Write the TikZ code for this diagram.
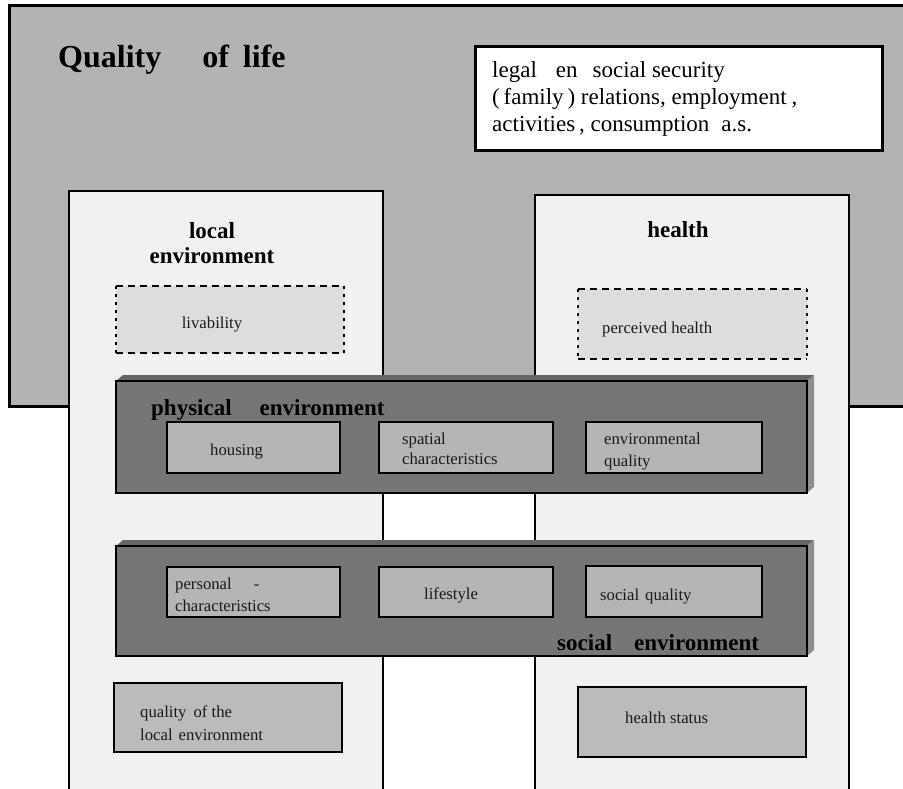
\documentclass[tikz,border=0pt]{standalone}
\usepackage{fontspec}
\setmainfont{Liberation Serif}
\definecolor{qolgray}{HTML}{B3B3B3}
\definecolor{colfill}{HTML}{F1F1F1}
\definecolor{dashfill}{HTML}{DDDDDD}
\definecolor{bandfront}{HTML}{767676}
\definecolor{bandtop}{HTML}{666666}
\definecolor{bandside}{HTML}{8E8E8E}
\definecolor{innerfill}{HTML}{B5B5B5}
\definecolor{botfill}{HTML}{BBBBBB}
\definecolor{txt}{HTML}{1A1A1A}
\begin{document}
\begin{tikzpicture}[x=1pt,y=-1pt,
  frame/.style={anchor=north west,inner sep=0pt,outer sep=0pt},
  colbox/.style={frame,draw=black,line width=2.3pt,fill=colfill},
  dashbox/.style={frame,fill=dashfill},
  bandbox/.style={frame,draw=black,line width=2.5pt,fill=bandfront},
  innerbox/.style={frame,draw=black,line width=2.5pt,fill=innerfill},
  botbox/.style={frame,draw=black,line width=2.2pt,fill=botfill},
  hdash/.style={line width=2.4pt,dash pattern=on 7pt off 5pt},
  vdot/.style={line width=2.6pt,dash pattern=on 3pt off 5pt},
  lbl/.style={anchor=base west,inner sep=0pt,text=txt,font=\fontsize{16.7}{20}\selectfont},
  head/.style={anchor=base,inner sep=0pt,font=\bfseries\fontsize{23}{25}\selectfont},
  bighead/.style={anchor=base west,inner sep=0pt,font=\bfseries\fontsize{23}{25}\selectfont},
  note/.style={anchor=base west,inner sep=0pt,font=\fontsize{23}{27}\selectfont}
]
\clip (0,0) rectangle (903,789);
\fill[white] (0,0) rectangle (903,789);

% outer quality of life box
\node[frame,draw=black,line width=3pt,fill=qolgray,minimum width=910pt,minimum height=400pt] (qol) at (9,6) {};
\node[anchor=base west,inner sep=0pt,font=\bfseries\fontsize{32}{36}\selectfont] (qoltxt) at (58,68) {Quality\hspace{41pt}of\hspace{14pt}life};

% white box
\node[frame,draw=black,line width=3pt,fill=white,minimum width=407pt,minimum height=104pt] (legal) at (475,47) {};
\node[note] (l1) at (492,78) {legal\hspace{19pt}en\hspace{15pt}social security};
\node[note] (l2) at (492,105) {(\,family\,) relations, employment\hspace{5pt},};
\node[note] (l3) at (492,132) {activities\,, consumption\hspace{12pt}a.s.};

% columns
\node[colbox,minimum width=314pt,minimum height=620pt] (loc) at (69,191) {};
\node[colbox,minimum width=314pt,minimum height=620pt] (hea) at (535,195) {};
\node[head] (loct1) at (212,238) {local};
\node[head] (loct2) at (212,263) {environment};
\node[head] (heat) at (678,237) {health};

% dashed boxes
\node[dashbox,minimum width=228pt,minimum height=67pt] (liv) at (116,286) {};
\draw[hdash] (liv.north west) -- (liv.north east);
\draw[hdash] (liv.south west) -- (liv.south east);
\draw[vdot] (liv.north west) -- (liv.south west);
\draw[vdot] (liv.north east) -- (liv.south east);
\node[lbl,anchor=base] (livt) at (212,328) {livability};

\node[dashbox,minimum width=229pt,minimum height=70pt] (per) at (578,289) {};
\draw[hdash] (per.north west) -- (per.north east);
\draw[hdash] (per.south west) -- (per.south east);
\draw[vdot] (per.north west) -- (per.south west);
\draw[vdot] (per.north east) -- (per.south east);
\node[lbl] (pert) at (602,333) {perceived health};

% physical environment band
\node[bandbox,minimum width=691pt,minimum height=112pt] (phys) at (116,381) {};
\fill[bandtop] (phys.north west) -- ++(7,-6) -- ([shift={(7,-6)}]phys.north east) -- (phys.north east) -- cycle;
\fill[bandside] (phys.north east) -- ++(7,-6) -- ([shift={(7,-6)}]phys.south east) -- (phys.south east) -- cycle;
\draw[line width=2.5pt] (phys.north west) rectangle (phys.south east);
\node[bighead] (physt) at (151,415) {physical\hspace{28pt}environment};

\node[innerbox,minimum width=173pt,minimum height=51pt] (hou) at (167,422) {};
\node[innerbox,minimum width=174pt,minimum height=51pt] (spa) at (379,422) {};
\node[innerbox,minimum width=176pt,minimum height=51pt] (env) at (586,422) {};
\node[lbl] (hout) at (210,455) {housing};
\node[lbl] (spat1) at (402,444) {spatial};
\node[lbl] (spat2) at (402,464) {characteristics};
\node[lbl] (envt1) at (604,444) {environmental};
\node[lbl] (envt2) at (604,466) {quality};

% social environment band
\node[bandbox,minimum width=691pt,minimum height=110pt] (soc) at (116,546) {};
\fill[bandtop] (soc.north west) -- ++(7,-6) -- ([shift={(7,-6)}]soc.north east) -- (soc.north east) -- cycle;
\fill[bandside] (soc.north east) -- ++(7,-6) -- ([shift={(7,-6)}]soc.south east) -- (soc.south east) -- cycle;
\draw[line width=2.5pt] (soc.north west) rectangle (soc.south east);

\node[innerbox,minimum width=173pt,minimum height=50pt] (pers) at (167,567) {};
\node[innerbox,minimum width=174pt,minimum height=50pt] (life) at (379,567) {};
\node[innerbox,minimum width=176pt,minimum height=51pt] (socq) at (586,566) {};
\node[lbl] (perst1) at (175,589) {personal\hspace{22pt}-};
\node[lbl] (perst2) at (175,611) {characteristics};
\node[lbl] (lifet) at (424,599) {lifestyle};
\node[lbl] (socqt) at (600,600) {social\hspace{6pt}quality};
\node[bighead] (soct) at (557,650) {social\hspace{22pt}environment};

% bottom boxes
\node[botbox,minimum width=228pt,minimum height=69pt] (qle) at (114,683) {};
\node[lbl] (qlet1) at (140,717) {quality\hspace{7pt}of the};
\node[lbl] (qlet2) at (140,740) {local\hspace{6pt}environment};
\node[botbox,minimum width=228pt,minimum height=70pt] (hst) at (578,687) {};
\node[lbl] (hstt) at (625,723) {health status};
\end{tikzpicture}
\end{document}
